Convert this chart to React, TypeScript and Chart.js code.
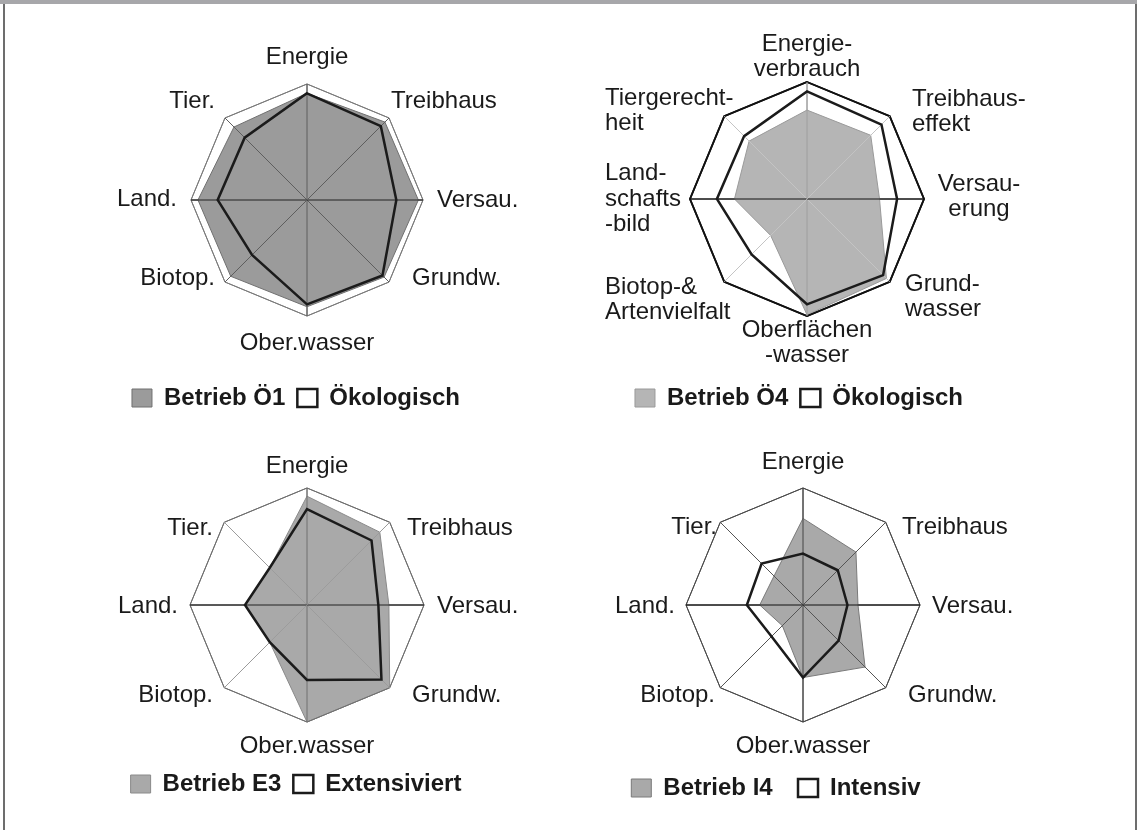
import React, { useEffect, useRef } from 'react';
import { Chart, registerables, RadialLinearScale } from 'chart.js';

Chart.register(...registerables);

// ---------- data ----------
const AXES_SHORT = ['Energie', 'Treibhaus', 'Versau.', 'Grundw.', 'Ober.wasser', 'Biotop.', 'Land.', 'Tier.'];
const AXES_LONG = [
  ['Energie-', 'verbrauch'],
  ['Treibhaus-', 'effekt'],
  ['Versau-', 'erung'],
  ['Grund-', 'wasser'],
  ['Oberflächen', '-wasser'],
  ['Biotop-&', 'Artenvielfalt'],
  ['Land-', 'schafts', '-bild'],
  ['Tiergerecht-', 'heit'],
];

const BETRIEB_OE1 = [0.92, 0.95, 0.96, 0.94, 0.92, 0.93, 0.94, 0.89];
const OEKOLOGISCH = [0.92, 0.9, 0.77, 0.92, 0.9, 0.67, 0.77, 0.76];
const BETRIEB_OE4 = [0.76, 0.77, 0.62, 0.96, 0.99, 0.44, 0.62, 0.7];
const BETRIEB_E3 = [0.93, 0.88, 0.7, 1.0, 1.0, 0.45, 0.53, 0.45];
const EXTENSIVIERT = [0.82, 0.78, 0.61, 0.9, 0.64, 0.45, 0.53, 0.45];
const BETRIEB_I4 = [0.74, 0.64, 0.47, 0.75, 0.62, 0.25, 0.37, 0.35];
const INTENSIV = [0.44, 0.42, 0.38, 0.43, 0.62, 0.38, 0.48, 0.5];

const LEGEND_1 = ['Betrieb Ö1', 'Ökologisch'];
const LEGEND_2 = ['Betrieb Ö4', 'Ökologisch'];
const LEGEND_3 = ['Betrieb E3', 'Extensiviert'];
const LEGEND_4 = ['Betrieb I4  ', 'Intensiv'];

// ---------- styling / layout ----------
const FONT = "'Liberation Sans', Arial, Helvetica, sans-serif";
const LABEL_SIZE = 24;
const LABEL_LH = 1.05;

type LabelPos = [number, number, 'left' | 'right' | 'center'];
type Geometry = { cx: number; cy: number; r: number; labels: LabelPos[] };

const GEOMETRY: Record<string, Geometry> = {};

class FixedRadialScale extends RadialLinearScale {
  static id = 'fixedRadial';
  setCenterPoint(a: number, b: number, c: number, d: number) {
    const g = GEOMETRY[(this as any).options.panelKey];
    if (!g) {
      // @ts-ignore
      return super.setCenterPoint(a, b, c, d);
    }
    (this as any).xCenter = g.cx;
    (this as any).yCenter = g.cy;
    (this as any).drawingArea = g.r;
  }
  fit() {
    // @ts-ignore
    super.fit();
    const self = this as any;
    const g = GEOMETRY[self.options.panelKey];
    if (!g || !self._pointLabelItems) return;
    const lh = LABEL_SIZE * LABEL_LH;
    self._pointLabelItems.forEach((item: any, i: number) => {
      const lbl = self._pointLabels[i];
      const n = Array.isArray(lbl) ? lbl.length : 1;
      const [dx, dy, align] = g.labels[i];
      item.x = g.cx + dx;
      item.y = g.cy + dy - (n * lh) / 2;
      item.textAlign = align;
      item.visible = true;
    });
  }
  // redraw only rings + angle lines (no labels), used over the filled area
  drawLinesOnly() {
    const self = this as any;
    const items = self._pointLabelItems || [];
    items.forEach((it: any) => (it.visible = false));
    self.ctx.save();
    self.drawGrid();
    self.ctx.restore();
    items.forEach((it: any) => (it.visible = true));
  }
}
Chart.register(FixedRadialScale);

// axis lines stay visible across the grey area, the outline series stays on top
const gridOverFill = {
  id: 'gridOverFill',
  afterDatasetDraw(chart: any, args: any) {
    if (args.index !== 0) return;
    const s = chart.scales.r;
    if (s && s.drawLinesOnly) s.drawLinesOnly();
  },
};

type Panel = {
  key: string;
  left: number;
  top: number;
  w: number;
  h: number;
  cx: number;
  cy: number;
  r: number;
  axes: any[];
  labelPos: LabelPos[];
  legend: string[];
  main: number[];
  ref: number[];
  fill: string;
  fillBorder: string;
  ringColor: string;
  ringWidth: number;
  angleColors: string[];
  pad: { left: number; right: number; top: number; bottom: number };
};

const PANELS: Panel[] = [
  {
    key: 'p1', left: 0, top: 0, w: 568, h: 420, cx: 307, cy: 200, r: 116,
    axes: AXES_SHORT,
    labelPos: [[0, -143, 'center'], [84, -99, 'left'], [130, 0, 'left'], [105, 78, 'left'], [0, 143, 'center'], [-92, 78, 'right'], [-130, -1, 'right'], [-92, -99, 'right']],
    legend: LEGEND_1, main: BETRIEB_OE1, ref: OEKOLOGISCH,
    fill: '#9b9b9b', fillBorder: '#707070', ringColor: '#7a7a7a', ringWidth: 1,
    angleColors: ['#5e5e5e', '#5e5e5e', '#222222', '#5e5e5e', '#5e5e5e', '#5e5e5e', '#222222', '#5e5e5e'],
    pad: { left: 24, right: 0, top: 0, bottom: 0 },
  },
  {
    key: 'p2', left: 568, top: 0, w: 569, h: 420, cx: 239, cy: 199, r: 117,
    axes: AXES_LONG,
    labelPos: [[0, -142, 'center'], [105, -87, 'left'], [172, -2, 'center'], [98, 98, 'left'], [0, 144, 'center'], [-202, 101, 'left'], [-202, 0, 'left'], [-202, -88, 'left']],
    legend: LEGEND_2, main: BETRIEB_OE4, ref: OEKOLOGISCH,
    fill: '#b5b5b5', fillBorder: '#9a9a9a', ringColor: '#111111', ringWidth: 1.8,
    angleColors: ['#9e9e9e', '#c4c4c4', '#111111', '#c4c4c4', '#9e9e9e', '#c4c4c4', '#111111', '#c4c4c4'],
    pad: { left: 0, right: 107, top: 0, bottom: 0 },
  },
  {
    key: 'p3', left: 0, top: 410, w: 568, h: 420, cx: 307, cy: 195, r: 117,
    axes: AXES_SHORT,
    labelPos: [[0, -139, 'center'], [100, -77, 'left'], [130, 1, 'left'], [105, 90, 'left'], [0, 141, 'center'], [-94, 90, 'right'], [-129, 1, 'right'], [-94, -77, 'right']],
    legend: LEGEND_3, main: BETRIEB_E3, ref: EXTENSIVIERT,
    fill: '#a9a9a9', fillBorder: '#8a8a8a', ringColor: '#6e6e6e', ringWidth: 1,
    angleColors: ['#707070', '#9c9c9c', '#222222', '#9c9c9c', '#707070', '#9c9c9c', '#222222', '#9c9c9c'],
    pad: { left: 24, right: 0, top: 0, bottom: 24 },
  },
  {
    key: 'p4', left: 568, top: 410, w: 569, h: 420, cx: 235, cy: 195, r: 117,
    axes: AXES_SHORT,
    labelPos: [[0, -143, 'center'], [99, -78, 'left'], [129, 1, 'left'], [105, 90, 'left'], [0, 141, 'center'], [-88, 90, 'right'], [-128, 1, 'right'], [-86, -78, 'right']],
    legend: LEGEND_4, main: BETRIEB_I4, ref: INTENSIV,
    fill: '#a9a9a9', fillBorder: '#7a7a7a', ringColor: '#4a4a4a', ringWidth: 1,
    angleColors: ['#444444', '#555555', '#111111', '#555555', '#444444', '#555555', '#111111', '#555555'],
    pad: { left: 0, right: 153, top: 0, bottom: 20 },
  },
];

PANELS.forEach((p) => {
  GEOMETRY[p.key] = { cx: p.cx, cy: p.cy, r: p.r, labels: p.labelPos };
});

function RadarPanel({ p }: { p: Panel }) {
  const ref = useRef<HTMLCanvasElement>(null);
  useEffect(() => {
    if (!ref.current) return;
    const chart = new Chart(ref.current, {
      type: 'radar',
      plugins: [gridOverFill],
      data: {
        labels: p.axes,
        datasets: [
          {
            label: p.legend[0],
            data: p.main,
            backgroundColor: p.fill,
            borderColor: p.fillBorder,
            borderWidth: 1,
            fill: true,
            order: 2,
            pointRadius: 0,
          },
          {
            label: p.legend[1],
            data: p.ref,
            backgroundColor: 'rgba(255,255,255,0)',
            borderColor: '#1b1b1b',
            borderWidth: 2.5,
            fill: false,
            order: 1,
            pointRadius: 0,
          },
        ],
      },
      options: {
        responsive: false,
        animation: false,
        devicePixelRatio: 1,
        events: [],
        layout: { padding: p.pad },
        elements: { line: { tension: 0, borderJoinStyle: 'miter' }, point: { radius: 0, hoverRadius: 0 } },
        plugins: {
          tooltip: { enabled: false },
          legend: {
            position: 'bottom',
            labels: {
              font: { family: FONT, size: 24, weight: 'bold' },
              color: '#1a1a1a',
              boxWidth: 20,
              boxHeight: 18,
              padding: 12,
              sort: (a: any, b: any) => a.datasetIndex - b.datasetIndex,
            },
          },
        },
        scales: {
          r: {
            type: 'fixedRadial',
            panelKey: p.key,
            min: 0,
            max: 1,
            ticks: { display: false, stepSize: 1 },
            grid: { color: p.ringColor, lineWidth: p.ringWidth },
            angleLines: { color: (ctx: any) => p.angleColors[ctx.index], lineWidth: 1 },
            pointLabels: {
              font: { family: FONT, size: LABEL_SIZE, lineHeight: LABEL_LH },
              color: '#1a1a1a',
              padding: 10,
            },
          } as any,
        },
      } as any,
    } as any);
    return () => chart.destroy();
  }, []);
  return (
    <canvas
      ref={ref}
      width={p.w}
      height={p.h}
      style={{ position: 'absolute', left: p.left, top: p.top, width: p.w, height: p.h }}
    />
  );
}

export default function App() {
  return (
    <div style={{ position: 'absolute', left: 0, top: 0, width: 1137, height: 830, background: '#ffffff', overflow: 'hidden' }}>
      {PANELS.map((p) => (
        <RadarPanel key={p.key} p={p} />
      ))}
      <div style={{ position: 'absolute', left: 0, top: 0, width: 1137, height: 4, background: '#a7a7aa', zIndex: 2 }} />
      <div style={{ position: 'absolute', left: 3, top: 4, width: 2, height: 826, background: '#6d6d6d', zIndex: 2 }} />
      <div style={{ position: 'absolute', left: 1135, top: 4, width: 2, height: 826, background: '#6d6d6d', zIndex: 2 }} />
    </div>
  );
}
